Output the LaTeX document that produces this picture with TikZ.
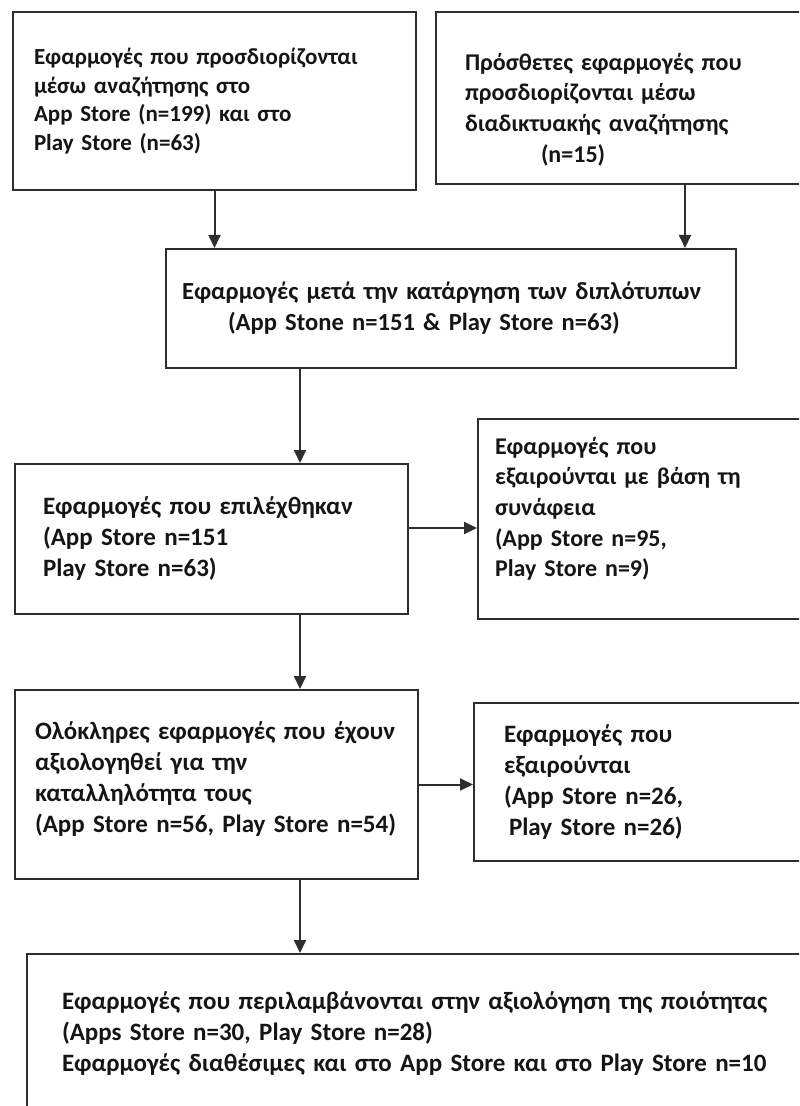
\documentclass[tikz,border=0pt]{standalone}
\usepackage{fontspec}
\setmainfont{Carlito}
\usetikzlibrary{arrows.meta,calc}
\definecolor{ink}{HTML}{151515}
\definecolor{frame}{HTML}{2E2E2E}
\tikzset{
  every node/.append style = {text=ink},
  % --- boxes ---------------------------------------------------------------
  flowbox/.style = {draw=frame, fill=white, line width=1pt, anchor=north west,
                    align=left, inner ysep=4pt,
                    font=\fontsize{12.5pt}{15.5pt}\selectfont\bfseries},
  smallbox/.style = {flowbox, font=\fontsize{11.5pt}{14.25pt}\selectfont\bfseries},
  midbox/.style   = {flowbox, font=\fontsize{12pt}{15.3pt}\selectfont\bfseries},
  % --- connectors ----------------------------------------------------------
  flow/.style    = {draw=frame, line width=1pt,
                    -{Triangle[length=6.5pt,width=6pt]}},
}
\begin{document}
\begin{tikzpicture}[x=0.5pt, y=-0.5pt]
\path[use as bounding box, fill=white] (0,0) rectangle (799,1106);
\clip (0,0) rectangle (799,1106);

% ------------------------------- search ------------------------------------
\node[smallbox, inner xsep=10.5pt, text width=180.5pt, minimum height=89pt]
     (store) at (12,11)
     {Εφαρμογές που προσδιορίζονται\\ μέσω αναζήτησης στο\\
      App Store (n=199) και στο\\ Play Store (n=63)};
\node[midbox, inner xsep=14.5pt, text width=168.5pt, minimum height=86pt]
     (web) at (435,11)
     {\rule{0pt}{20pt}Πρόσθετες εφαρμογές που\\ προσδιορίζονται μέσω\\
      διαδικτυακής αναζήτησης\\ \hspace*{38pt}(n=15)};

% ----------------------------- duplicates ----------------------------------
\node[flowbox, font=\fontsize{12.3pt}{15.5pt}\selectfont\bfseries,
      inner xsep=8pt, text width=269pt, minimum height=59.5pt]
     (dedup) at (165,248)
     {Εφαρμογές μετά την κατάργηση των διπλότυπων\\
      \hspace*{23pt}(App Stone n=151 \& Play Store n=63)};

% ------------------------------ screening ----------------------------------
\node[flowbox, inner xsep=14pt, text width=168.5pt, minimum height=75pt]
     (chosen) at (14,463)
     {Εφαρμογές που επιλέχθηκαν\\ (App Store n=151\\ Play Store n=63)};
\node[midbox, inner xsep=8.5pt, text width=159.5pt, minimum height=100pt]
     (relev) at (477,418)
     {Εφαρμογές που\\ εξαιρούνται με βάση τη\\ συνάφεια\\
      (App Store n=95,\\ Play Store n=9)\rule[-12pt]{0pt}{12pt}};

% ------------------------------ fitness ------------------------------------
\node[flowbox, inner xsep=10pt, text width=181.5pt, minimum height=94.5pt]
     (fit) at (14,689)
     {Ολόκληρες εφαρμογές που έχουν\\ αξιολογηθεί για την\\
      καταλληλότητα τους\\ (App Store n=56, Play Store n=54)\rule[-7pt]{0pt}{7pt}};
\node[flowbox, inner xsep=15pt, text width=148.5pt, minimum height=79pt]
     (dropped) at (473,702)
     {Εφαρμογές που\\ εξαιρούνται\\ (App Store n=26,\\ \hspace*{2.5pt}Play Store n=26)};

% ------------------------------ quality ------------------------------------
\node[flowbox, inner xsep=17.5pt, text width=367pt, minimum height=80pt]
     (quality) at (26,953)
     {Εφαρμογές που περιλαμβάνονται στην αξιολόγηση της ποιότητας\\
      (Apps Store n=30, Play Store n=28)\\
      Εφαρμογές διαθέσιμες και στο App Store και στο Play Store n=10};

% -------------------------------- flow -------------------------------------
\coordinate (spine)  at (300,0);
\coordinate (rspine) at (685,0);
\draw[flow] (store.south) -- (store.south |- dedup.north);
\draw[flow] (web.south -| rspine) -- (dedup.north -| rspine);
\draw[flow] (dedup.south -| spine) -- (chosen.north -| spine);
\draw[flow] (chosen.south -| spine) -- (fit.north -| spine);
\draw[flow] (fit.south -| spine) -- (quality.north -| spine);
\draw[flow] ([yshift=5.5pt]chosen.east) -- ([yshift=5.5pt]chosen.east -| relev.west);
\draw[flow] (fit.east) -- (fit.east -| dropped.west);

\end{tikzpicture}
\end{document}
